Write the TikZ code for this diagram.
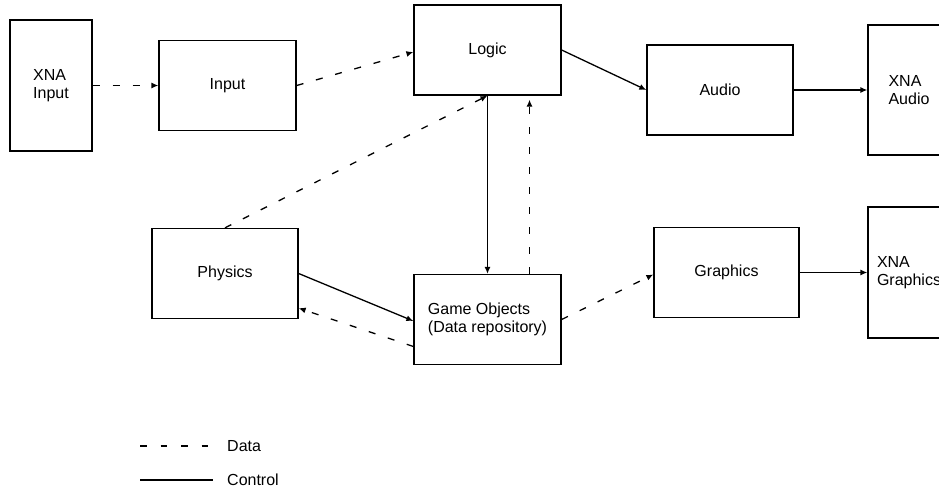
\documentclass[tikz,border=0pt]{standalone}
\usepackage{fontspec}
\setmainfont{Liberation Sans}
\usetikzlibrary{arrows.meta, positioning, calc}

\begin{document}
\begin{tikzpicture}[
        x=1pt, y=-1pt,
        box/.style={
            draw,
            line width=1.3pt,
            align=left,
            inner sep=0pt,
            minimum width=147pt,
            minimum height=90pt,
            font=\fontsize{16}{18.5}\selectfont
        },
        xnabox/.style={
            box,
            minimum width=82pt,
            minimum height=131pt
        },
        arrow/.style={
            -{Latex[length=7pt,width=6pt]},
            line width=1.3pt
        },
        dataline/.style={
            line width=1.3pt,
            dash pattern=on 7pt off 13pt
        },
        legendtext/.style={
            anchor=west,
            inner sep=0pt,
            font=\fontsize{16}{18.5}\selectfont
        }
    ]

    \clip (0,0) rectangle (939,490);

    % Engine modules
    \node[xnabox] (xnainput) at (51,85.5) {XNA\\Input};
    \node[box, minimum width=137pt] (input) at (227.5,85.5) {Input};
    \node[box] (logic) at (487.5,50) {Logic};
    \node[box, minimum width=146pt] (audio) at (720,90) {Audio};
    \node[xnabox, minimum height=130pt] (xnaaudio) at (909,90) {XNA\\Audio};

    \node[box, minimum width=146pt] (physics) at (225,273.5) {Physics};
    \node[box] (gameobj) at (487.5,319.5) {Game Objects\\(Data repository)};
    \node[box, minimum width=145pt] (graphics) at (726.5,272.5) {Graphics};
    \node[xnabox] (xnagraphics) at (909,272.5) {XNA\\Graphics};

    % Data flow
    \draw[arrow, dataline] (xnainput) -- (input);
    \draw[arrow, dataline] (input.east) -- ([yshift=-2pt]logic.west);
    \draw[arrow, dataline] (physics.north) -- (logic.south);
    \draw[arrow, dataline] ([xshift=42pt]gameobj.north) -- ([xshift=42pt,yshift=-4pt]logic.south);
    \draw[arrow, dataline] ([yshift=-27pt]gameobj.west) -- ([yshift=11pt]physics.south east);
    \draw[arrow, dataline] (gameobj.east) -- ([yshift=-2pt]graphics.west);

    % Control flow
    \draw[arrow] (logic.east) -- (audio.west);
    \draw[arrow] (audio) -- (xnaaudio);
    \draw[arrow] (logic.south) -- (gameobj.north);
    \draw[arrow] (physics.east) -- ([yshift=-1.5pt]gameobj.west);
    \draw[arrow] (graphics) -- (xnagraphics);

    % Legend
    \coordinate (datastart) at (140,446);
    \coordinate (dataend) at (209,446);
    \coordinate (controlstart) at (140,480);
    \coordinate (controlend) at (213,480);
    \node[legendtext] (datatext) at (227,446) {Data};
    \node[legendtext] (controltext) at (227,480) {Control};
    \draw[dataline, dash pattern=on 6.5pt off 14pt] (datastart) -- (dataend);
    \draw[line width=1.3pt] (controlstart) -- (controlend);

\end{tikzpicture}
\end{document}
